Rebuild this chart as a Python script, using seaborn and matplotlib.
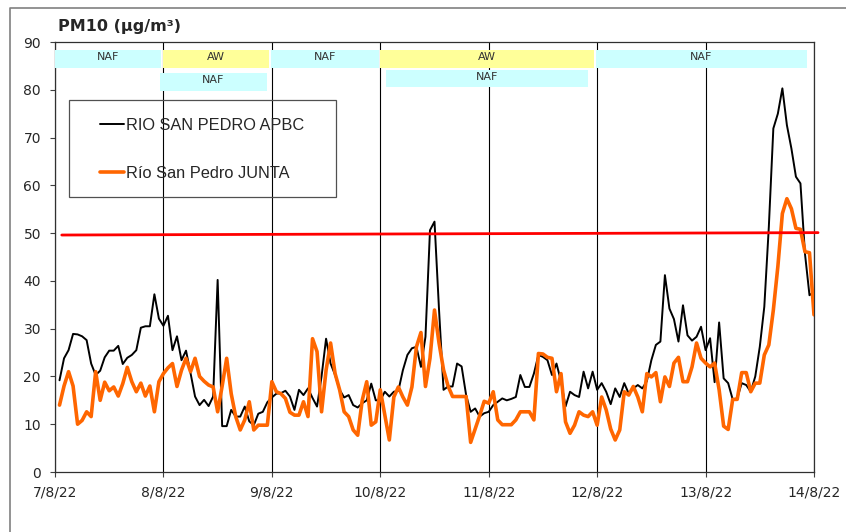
import numpy as np
import pandas as pd
import matplotlib
matplotlib.use("Agg")
import matplotlib.pyplot as plt
from matplotlib.patches import Rectangle
from matplotlib.lines import Line2D
import seaborn as sns

# PM10 horario (ug/m3), 7/8/22 01h -> 14/8/22 00h
apbc = [
    19.2, 23.8, 25.5, 28.9, 28.8, 28.4, 27.6, 22.7, 20.3, 21.2,
    24.0, 25.4, 25.4, 26.4, 22.6, 23.9, 24.5, 25.5, 30.2, 30.5,
    30.5, 37.2, 32.1, 30.6, 32.7, 25.5, 28.4, 23.4, 25.4, 20.7,
    15.8, 14.0, 15.1, 13.8, 15.8, 40.2, 9.6, 9.6, 13.0, 11.6,
    11.6, 13.7, 10.6, 9.8, 12.2, 12.6, 14.6, 15.6, 16.4, 16.5,
    17.0, 15.8, 13.0,
    17.2, 16.1, 17.5, 15.5, 13.7, 20.0, 27.9, 22.7, 20.3, 17.2,
    15.6, 16.1, 14.0, 13.5, 14.4, 15.0, 18.5, 15.0, 15.0, 16.8,
    15.8, 16.8, 17.0, 21.3, 24.5, 25.9, 26.2, 22.0, 28.3, 50.6,
    52.4, 34.0, 17.2, 17.9, 17.9, 22.7, 22.1, 16.1, 12.6, 13.3,
    11.6, 12.3, 12.6, 14.0, 14.7, 15.4, 15.0, 15.3, 15.7, 20.3,
    17.8, 17.8, 20.6, 24.5,
    24.1, 23.4, 20.3, 22.7, 19.0, 13.7, 16.8, 16.1, 15.7, 21.0,
    17.5, 21.0, 17.2, 18.6, 16.8, 14.2, 17.5, 15.7, 18.6, 16.4,
    17.5, 18.2, 17.5, 19.0, 23.4, 26.6, 27.3, 41.2, 34.2, 32.0,
    27.3, 34.9, 28.6, 27.5, 28.3, 30.4, 25.5, 28.0, 18.8, 31.3,
    19.6, 18.6, 15.2, 15.4, 18.6, 18.2, 16.8, 20.0, 26.2, 34.6,
    51.3, 71.9, 75.0, 80.3, 72.6, 67.7, 61.8, 60.4, 45.7, 37.0,
    37.7,
]
junta = [
    14.0, 18.0, 21.0, 18.0, 10.0, 10.8, 12.6, 11.6, 21.0, 15.0,
    18.8, 17.0, 17.8, 15.9, 18.5, 21.9, 18.9, 16.8, 18.6, 15.9,
    18.0, 12.6, 18.9, 20.6, 21.8, 22.7, 17.9, 21.3, 23.8, 21.0,
    23.8, 20.0, 19.0, 18.2, 17.8, 12.6, 18.0, 23.8, 16.4, 11.6,
    8.8, 10.9, 14.7, 8.8, 9.8, 9.8, 9.8, 18.9, 16.8, 16.4,
    15.4, 12.5, 11.9,
    11.9, 14.7, 11.6, 27.9, 25.2, 12.6, 21.3, 27.0, 20.6, 17.2,
    12.6, 11.6, 8.8, 7.7, 15.0, 18.9, 9.8, 10.5, 17.2, 12.0,
    6.7, 15.7, 17.8, 15.7, 14.0, 17.8, 26.2, 29.2, 17.9, 23.8,
    33.9, 27.0, 21.4, 18.0, 15.8, 15.8, 15.8, 15.8, 6.2, 9.0,
    11.8, 14.8, 14.4, 16.8, 10.9, 9.9, 9.9, 9.9, 10.9, 12.6,
    12.6, 12.6, 10.9, 24.8,
    24.7, 24.0, 23.8, 16.8, 20.6, 10.5, 8.1, 9.8, 12.6, 11.9,
    11.6, 12.6, 9.8, 15.7, 13.0, 9.0, 6.7, 8.8, 16.8, 16.1,
    17.9, 15.7, 12.6, 20.6, 19.9, 20.8, 14.7, 19.9, 17.9, 22.8,
    24.0, 18.9, 18.9, 22.0, 27.0, 23.8, 22.8, 22.0, 22.8, 17.2,
    9.6, 8.9, 15.2, 15.2, 20.8, 20.8, 16.8, 18.6, 18.6, 24.5,
    26.6, 33.9, 43.0, 54.1, 57.2, 55.1, 51.0, 50.8, 46.1, 45.9,
    32.9,
]
hours = np.arange(1, len(apbc) + 1)

series_names = ["RIO SAN PEDRO APBC", "Río San Pedro JUNTA"]
day_labels = ["7/8/22", "8/8/22", "9/8/22", "10/8/22", "11/8/22", "12/8/22", "13/8/22", "14/8/22"]

# valor limite diario
limit_x = [1.5, 168.9]
limit_y = [49.6, 50.1]

# episodios: etiqueta, hora inicio, hora fin, fila
episodes = [
    ("NAF", 0.0, 23.5, 0),
    ("AW", 23.9, 47.4, 0),
    ("NAF", 47.8, 71.7, 0),
    ("AW", 71.9, 119.3, 0),
    ("NAF", 119.7, 166.4, 0),
    ("NAF", 23.2, 46.9, 1),
    ("NAF", 73.3, 118.0, 2),
]
row_y = {0: (84.6, 88.3), 1: (79.7, 83.5), 2: (80.6, 84.1)}
ep_colors = {"NAF": "#CCFFFF", "AW": "#FFFF99"}

df = pd.DataFrame({"hora": hours, series_names[0]: apbc, series_names[1]: junta})

sns.set_style("white")
plt.rcParams["font.family"] = ["DejaVu Sans"]

W, H = 846, 532
fig = plt.figure(figsize=(W / 100, H / 100), dpi=100)
ax = fig.add_axes([55 / W, 1 - 472 / H, (814 - 55) / W, (472 - 42) / H])

sns.lineplot(data=df, x="hora", y=series_names[0], color="black", linewidth=1.4,
             label=series_names[0], ax=ax, zorder=4)
sns.lineplot(data=df, x="hora", y=series_names[1], color="#FF6600", linewidth=2.6,
             label=series_names[1], ax=ax, zorder=5)
ax.plot(limit_x, limit_y, color="#FF0000", linewidth=2.0, zorder=6, clip_on=False)

ax.set_xlim(0, 168)
ax.set_ylim(0, 90)
ax.set_xticks(np.arange(0, 169, 24))
ax.set_xticklabels(day_labels)
ax.set_yticks(np.arange(0, 91, 10))
ax.set_xlabel("")
ax.set_ylabel("")
ax.grid(axis="x", color="black", linewidth=0.8)
ax.grid(axis="y", visible=False)
ax.set_axisbelow(True)
ax.tick_params(axis="both", direction="out", length=3.6, width=0.8, color="#404040",
               labelsize=10, left=True, bottom=True)
ax.tick_params(axis="y", pad=6.5)
ax.tick_params(axis="x", pad=6)
for sp in ax.spines.values():
    sp.set_color("#303030")
    sp.set_linewidth(0.9)

for lab, x0, x1, row in episodes:
    y0, y1 = row_y[row]
    ax.add_patch(Rectangle((x0, y0), x1 - x0, y1 - y0, facecolor=ep_colors[lab],
                           edgecolor="none", zorder=3, clip_on=False))
    ax.text((x0 + x1) / 2, (y0 + y1) / 2 + 0.4, lab, ha="center", va="center",
            fontsize=8, color="#333333", zorder=4)

# leyenda sin fondo con marco aparte
leg = ax.legend(loc="upper left", bbox_to_anchor=(100 / W, 1 - 118 / H),
                bbox_transform=fig.transFigure, frameon=False, borderpad=0,
                borderaxespad=0, handlelength=1.45, handletextpad=0.12,
                labelspacing=2.0, prop={"family": "Liberation Sans", "size": 11.8})
fig.add_artist(Rectangle((69 / W, 1 - 197 / H), (336 - 69) / W, (197 - 100) / H,
                         transform=fig.transFigure, fill=False, edgecolor="#505050",
                         linewidth=0.9))

fig.text(58 / W, 1 - 27 / H, "PM10 (µg/m³)", fontsize=11.5, fontweight="bold",
         ha="left", va="center")

# borde del area del grafico
fig.add_artist(Line2D([10 / W, 10 / W, 1], [0, 1 - 8 / H, 1 - 8 / H],
                      transform=fig.transFigure, color="#808080", linewidth=1.2))

fig.savefig("out.png", dpi=100)
